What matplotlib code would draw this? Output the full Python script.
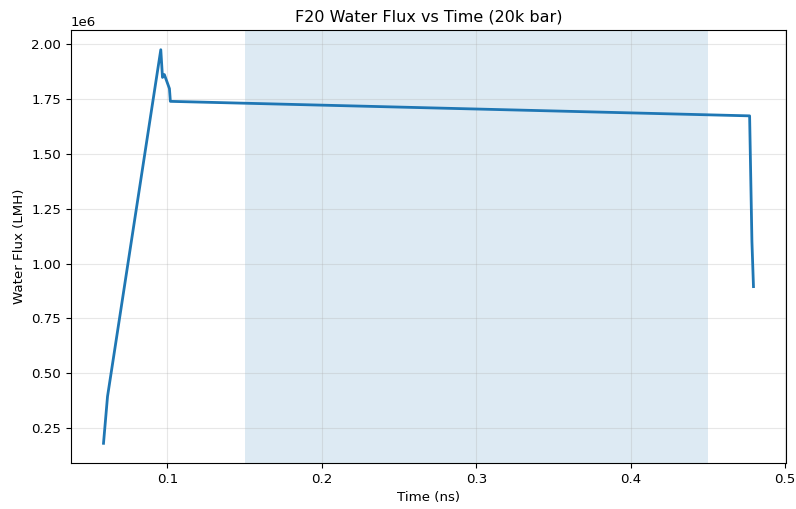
import matplotlib
matplotlib.use("Agg")
import matplotlib.pyplot as plt

# time (ns) and water flux (LMH)
time_ns = [0.0586, 0.0612, 0.0957, 0.0968, 0.0980, 0.1013, 0.1019, 0.4770, 0.4785, 0.4795]
flux = [0.182e6, 0.395e6, 1.973e6, 1.847e6, 1.860e6, 1.796e6, 1.738e6, 1.672e6, 1.10e6, 0.895e6]

span_start = 0.15
span_end = 0.45

plt.rcParams["font.size"] = 9.6

fig, ax = plt.subplots(figsize=(7.96, 5.09), dpi=100)
fig.subplots_adjust(left=0.0892, right=0.9874, top=0.941, bottom=0.0904)
ax.axvspan(span_start, span_end, color="C0", alpha=0.15, lw=0)
ax.plot(time_ns, flux, color="C0", lw=2)
ax.set_title("F20 Water Flux vs Time (20k bar)", fontsize=11.5)
ax.set_xlabel("Time (ns)")
ax.set_ylabel("Water Flux (LMH)")
ax.grid(True, alpha=0.3)
fig.savefig("out.png")
